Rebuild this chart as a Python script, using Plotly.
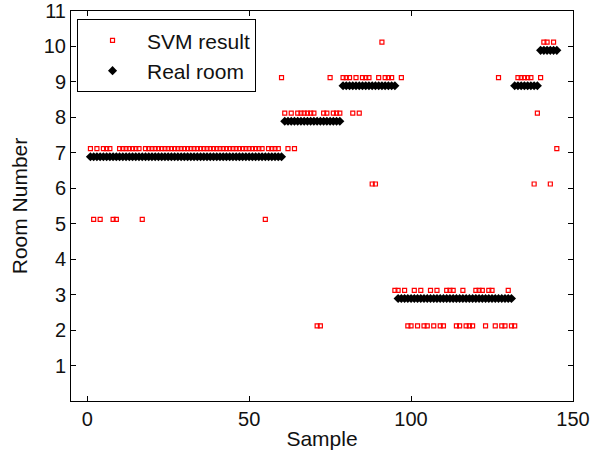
import plotly.graph_objects as go

# Sample index
samples = list(range(1, 146))

# Real room per sample
real_room = [7] * 60 + [8] * 18 + [9] * 17 + [3] * 36 + [9] * 8 + [10] * 6

# SVM predicted room per sample
svm_result = (
    [7, 5, 7, 5, 7, 7, 7, 5, 5] + [7] * 7 + [5] + [7] * 37 + [5] + [7] * 4 + [9]
    + [8, 7, 8, 7] + [8] * 6 + [2, 2, 8, 8, 9, 8, 8, 8]
    + [9, 9, 9, 8, 9, 8, 9, 9, 9, 6, 6, 9, 10, 9, 9, 9, 3]
    + [3, 9, 3, 2, 2, 3, 2, 3, 2, 2, 3, 2, 3, 2, 2, 3, 3, 3, 2, 2, 3,
       2, 2, 2, 3, 3, 3, 2, 3, 3, 2, 9, 2, 2, 3, 2]
    + [2, 9, 9, 9, 9, 9, 6, 8]
    + [9, 10, 10, 6, 10, 7]
)

# display offsets so the two series do not overlap
svm_offset = 0.12
real_offset = -0.11

x_ticks = [0, 50, 100, 150]
y_ticks = list(range(1, 12))

FONT = "Liberation Sans, Arial, Helvetica, sans-serif"

fig = go.Figure()
fig.add_trace(go.Scatter(
    x=samples, y=[v + svm_offset for v in svm_result],
    mode="markers", name="SVM result",
    marker=dict(symbol="square-open", size=4, color="red", line=dict(width=1.2, color="red")),
))
fig.add_trace(go.Scatter(
    x=samples, y=[v + real_offset for v in real_room],
    mode="markers", name="Real room",
    marker=dict(symbol="diamond", size=7, color="black", line=dict(width=0)),
))

axis_common = dict(
    showline=True, linecolor="black", linewidth=1, mirror="ticks",
    ticks="inside", ticklen=5, tickcolor="black", tickwidth=1,
    showgrid=False, zeroline=False, automargin=False,
    tickfont=dict(family=FONT, size=20, color="#111"),
)

fig.update_xaxes(range=[-5, 150], tickvals=x_ticks,
                 title=dict(text="Sample", font=dict(family=FONT, size=21, color="#111"), standoff=2),
                 **axis_common)
fig.update_yaxes(range=[0, 11], tickvals=y_ticks,
                 title=dict(text="Room Number", font=dict(family=FONT, size=21, color="#111"), standoff=10),
                 **axis_common)

fig.update_layout(
    width=612, height=459,
    margin=dict(l=71, r=39, t=11, b=58),
    paper_bgcolor="white", plot_bgcolor="white",
    font=dict(family=FONT, size=21, color="#111"),
    legend=dict(
        x=0.012, y=0.979, xanchor="left", yanchor="top",
        bordercolor="black", borderwidth=1, bgcolor="white",
        font=dict(family=FONT, size=21, color="#111"),
        itemwidth=59, tracegroupgap=0,
    ),
    showlegend=True,
)

fig.write_html("out.html", config={"displayModeBar": False},
               post_script="document.body.style.margin='0';")
